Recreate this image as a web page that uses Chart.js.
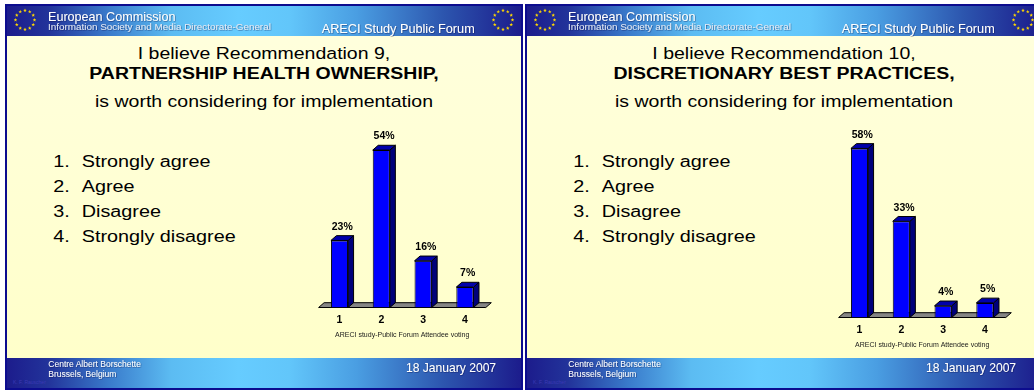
<!DOCTYPE html>
<html>
<head>
<meta charset="utf-8">
<title>ARECI Study Public Forum – Recommendations 9 and 10</title>
<script src="https://cdn.jsdelivr.net/npm/chart.js@4.4.1/dist/chart.umd.min.js"></script>
<style>
  html, body { margin: 0; padding: 0; background: #ffffff; }
  #stage { position: relative; width: 1034px; height: 390px; overflow: hidden; }
  #slides { position: absolute; left: 0; top: 0; }
  canvas { position: absolute; }
  #chartRec9 { left: 300px; top: 115px; }
  #chartRec10 { left: 820px; top: 125px; }
</style>
</head>
<body>
<div id="stage">
  <svg id="slides" width="1034" height="390" xmlns="http://www.w3.org/2000/svg"></svg>
  <canvas id="chartRec9" width="210" height="235"></canvas>
  <canvas id="chartRec10" width="210" height="235"></canvas>
</div>
<script>
// ---- data ----
const answerCodes = ['1', '2', '3', '4'];
const answerLabels = ['Strongly agree', 'Agree', 'Disagree', 'Strongly disagree'];
const rec9Shares = [23, 54, 16, 7];
const rec10Shares = [58, 33, 4, 5];
const shareAxisMax = 60;
const votingCaption = 'ARECI study-Public Forum Attendee voting';

const rec9Title = ['I believe Recommendation 9,', 'PARTNERSHIP HEALTH OWNERSHIP,', 'is worth considering for implementation'];
const rec10Title = ['I believe Recommendation 10,', 'DISCRETIONARY BEST PRACTICES,', 'is worth considering for implementation'];

const headerOrg = 'European Commission';
const headerDept = 'Information Society and Media Directorate-General';
const headerEvent = 'ARECI Study Public Forum';
const venueLines = ['Centre Albert Borschette', 'Brussels, Belgium'];
const eventDate = '18 January 2007';
const authorMark = 'K. F. Rauscher';

const FONT = "'Liberation Sans', Arial, Helvetica, sans-serif";

// ---- slide frames (SVG) ----
function txt(x, y, str, size, o = {}) {
  const weight = o.weight || 'normal';
  const fill = o.fill || '#000000';
  const anchor = o.anchor || 'start';
  const sy = o.sy || 1;
  const filt = o.filter ? ` filter="url(#${o.filter})"` : '';
  return `<text transform="translate(${x},${y}) scale(1,${sy})" font-size="${size}" font-weight="${weight}" fill="${fill}" text-anchor="${anchor}"${filt}>${str}</text>`;
}

function starRing(cx, cy) {
  let s = '';
  for (let k = 0; k < 12; k++) {
    const a = k * Math.PI / 6;
    const sx = cx + 9.5 * Math.cos(a), sy = cy + 9.5 * Math.sin(a);
    const pts = [];
    for (let j = 0; j < 10; j++) {
      const r = j % 2 ? 0.8 : 1.9;
      const t = -Math.PI / 2 + j * Math.PI / 5;
      pts.push((sx + r * Math.cos(t)).toFixed(2) + ',' + (sy + r * Math.sin(t)).toFixed(2));
    }
    s += `<polygon points="${pts.join(' ')}"/>`;
  }
  return `<g fill="#ffd800">${s}</g>`;
}

function slide(offsetX, titleLines) {
  let g = `<g transform="translate(${offsetX},0)">`;
  g += `<rect x="5" y="4" width="518" height="386" fill="#0c0c8e"/>`;
  g += `<rect x="7" y="6" width="514" height="382" fill="url(#paper)"/>`;
  g += `<rect x="7" y="6" width="514" height="30" fill="url(#band)"/>`;
  g += `<rect x="7" y="358" width="514" height="30" fill="url(#band)"/>`;
  g += starRing(25, 20) + starRing(503, 20);
  // header
  g += txt(48, 20.7, headerOrg, 12.6, { fill: '#ffffff', filter: 'shade' });
  g += txt(48, 29.7, headerDept, 9.9, { fill: '#e4eaf6', filter: 'shade' });
  g += txt(321.7, 33, headerEvent, 12.7, { fill: '#ffffff', filter: 'shade' });
  // title
  g += txt(264, 59, titleLines[0], 19.5, { anchor: 'middle', sy: 0.88 });
  g += txt(264, 79, titleLines[1], 19.5, { anchor: 'middle', sy: 0.88, weight: 'bold' });
  g += txt(264, 107, titleLines[2], 19.5, { anchor: 'middle', sy: 0.88 });
  // answer key
  const listBase = [167.3, 192.3, 217.3, 241.7];
  answerLabels.forEach((label, i) => {
    g += txt(53.3, listBase[i], answerCodes[i] + '.', 19.8, { sy: 0.87 });
    g += txt(81.7, listBase[i], label, 19.8, { sy: 0.87 });
  });
  // footer
  g += txt(48.3, 367.3, venueLines[0], 8.5, { fill: '#ffffff', filter: 'shade' });
  g += txt(48.3, 377.3, venueLines[1], 8.5, { fill: '#ffffff', filter: 'shade' });
  g += txt(406, 372, eventDate, 12.1, { fill: '#ffffff', filter: 'shade' });
  g += txt(13, 384, authorMark, 5, { fill: '#3a3ab4' });
  g += `</g>`;
  return g;
}

const defs = `<defs>
  <linearGradient id="band" x1="0" y1="0" x2="1" y2="0">
    <stop offset="0" stop-color="#1c1c8c"/>
    <stop offset="0.08" stop-color="#22339a"/>
    <stop offset="0.2" stop-color="#3a7ccc"/>
    <stop offset="0.32" stop-color="#5cbcf2"/>
    <stop offset="0.45" stop-color="#66ccff"/>
    <stop offset="0.55" stop-color="#62c6fa"/>
    <stop offset="0.68" stop-color="#4a9ee2"/>
    <stop offset="0.85" stop-color="#2c55ae"/>
    <stop offset="1" stop-color="#1c1c8c"/>
  </linearGradient>
  <linearGradient id="paper" x1="0" y1="0" x2="0" y2="1">
    <stop offset="0" stop-color="#ffffde"/>
    <stop offset="1" stop-color="#ffffc8"/>
  </linearGradient>
  <filter id="shade" x="-5%" y="-30%" width="110%" height="160%">
    <feDropShadow dx="0.6" dy="0.6" stdDeviation="0.3" flood-color="#000040" flood-opacity="0.55"/>
  </filter>
</defs>`;

const svg = document.getElementById('slides');
svg.setAttribute('style', `font-family:${FONT}`);
svg.innerHTML = defs + slide(0, rec9Title) + slide(520, rec10Title);

// ---- 3D bar charts ----
const bar3d = {
  id: 'bar3d',
  beforeDatasetsDraw(chart, args, o) {
    const { ctx, chartArea: a } = chart;
    ctx.save();
    ctx.beginPath();
    ctx.moveTo(a.left, a.bottom);
    ctx.lineTo(a.right, a.bottom);
    ctx.lineTo(a.right + o.dx, a.bottom + o.dy);
    ctx.lineTo(a.left + o.dx, a.bottom + o.dy);
    ctx.closePath();
    ctx.fillStyle = o.floorColor;
    ctx.fill();
    ctx.strokeStyle = o.edgeColor;
    ctx.lineWidth = 1;
    ctx.stroke();
    ctx.restore();
  },
  afterDatasetsDraw(chart, args, o) {
    const { ctx } = chart;
    ctx.save();
    chart.getSortedVisibleDatasetMetas().forEach(meta => {
      const ds = chart.data.datasets[meta.index];
      meta.data.forEach((bar, i) => {
        const { x, y, base, width } = bar.getProps(['x', 'y', 'base', 'width'], true);
        const l = x - width / 2, r = x + width / 2;
        ctx.lineWidth = 1;
        ctx.strokeStyle = o.edgeColor;
        // right side face
        ctx.beginPath();
        ctx.moveTo(r, y);
        ctx.lineTo(r + o.dx, y + o.dy);
        ctx.lineTo(r + o.dx, base + o.dy);
        ctx.lineTo(r, base);
        ctx.closePath();
        ctx.fillStyle = o.sideColor;
        ctx.fill();
        ctx.stroke();
        // top face
        ctx.beginPath();
        ctx.moveTo(l, y);
        ctx.lineTo(l + o.dx, y + o.dy);
        ctx.lineTo(r + o.dx, y + o.dy);
        ctx.lineTo(r, y);
        ctx.closePath();
        ctx.fillStyle = o.topColor;
        ctx.fill();
        ctx.stroke();
        // value label
        ctx.fillStyle = '#000000';
        ctx.font = `bold 10.5px ${FONT}`;
        ctx.textAlign = 'center';
        ctx.textBaseline = 'alphabetic';
        ctx.fillText(ds.data[i] + '%', x + o.dx / 2, y + o.dy - o.labelGap);
      });
    });
    ctx.restore();
  }
};

Chart.defaults.font.family = FONT;

function drawVotes(canvasId, shares) {
  return new Chart(document.getElementById(canvasId), {
    type: 'bar',
    data: {
      labels: answerCodes,
      datasets: [{
        data: shares,
        backgroundColor: '#0000ff',
        borderColor: '#000000',
        borderWidth: 1,
        categoryPercentage: 0.41,
        barPercentage: 1
      }]
    },
    options: {
      responsive: false,
      animation: false,
      devicePixelRatio: 1,
      layout: { padding: { left: 18.6, right: 24.2, top: 17.6, bottom: 0 } },
      plugins: {
        legend: { display: false },
        tooltip: { enabled: false },
        bar3d: {
          dx: 5.5, dy: -4.8, labelGap: 6,
          floorColor: '#858585', edgeColor: '#000000',
          sideColor: '#00007a', topColor: '#0000aa'
        }
      },
      scales: {
        y: { display: false, min: 0, max: shareAxisMax },
        x: {
          grid: { display: false, drawTicks: false },
          border: { display: false },
          ticks: { color: '#000000', padding: 6.4, font: { size: 10.5, weight: 'bold' } },
          title: {
            display: true, text: votingCaption, color: '#1a1a1a',
            font: { size: 7 }, padding: { top: 0, bottom: 10.5 }
          },
          afterFit(axis) { axis.height = 42.5; }
        }
      }
    },
    plugins: [bar3d]
  });
}

drawVotes('chartRec9', rec9Shares);
drawVotes('chartRec10', rec10Shares);
</script>
</body>
</html>
